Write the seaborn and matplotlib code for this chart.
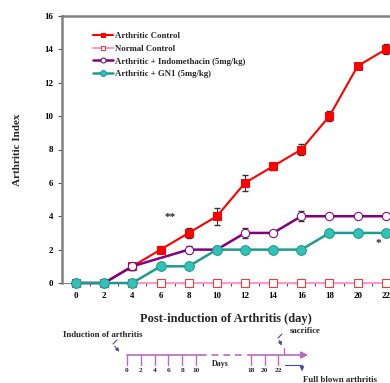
import numpy as np
import pandas as pd
import matplotlib
matplotlib.use("Agg")
import matplotlib.pyplot as plt
import seaborn as sns

sns.set_style("ticks")
plt.rcParams['font.family'] = ['Liberation Serif', 'DejaVu Serif']
plt.rcParams['font.weight'] = 'bold'

days = [0, 2, 4, 6, 8, 10, 12, 14, 16, 18, 20, 22]
arthritic = [0, 0, 1, 2, 3, 4, 6, 7, 8, 10, 13, 14]
arthritic_err = [0, 0, 0.2, 0.2, 0.3, 0.5, 0.5, 0.2, 0.3, 0.3, 0.2, 0.3]
normal = [0] * 12
indo_days = [0, 2, 4, 8, 10, 12, 14, 16, 18, 20, 22]
indo = [0, 0, 1, 2, 2, 3, 3, 4, 4, 4, 4]
indo_err = [0, 0, 0.2, 0.2, 0.1, 0.3, 0.1, 0.3, 0, 0, 0]
gn1 = [0, 0, 0, 1, 1, 2, 2, 2, 2, 3, 3, 3]
gn1_err = [0, 0, 0, 0.1, 0.1, 0.2, 0.1, 0.1, 0.1, 0, 0, 0]

timeline_a = [0, 2, 4, 6, 8, 10]
timeline_b = [18, 20, 22]

fig = plt.figure(figsize=(3.9, 3.83), dpi=100)
ax = fig.add_axes([62 / 390, 1 - 283 / 383, 328 / 390, 267 / 383])

# error bars first
for x, y, e in [(days, arthritic, arthritic_err), (indo_days, indo, indo_err),
                (days, gn1, gn1_err)]:
    ax.errorbar(x, y, yerr=e, fmt='none', ecolor='#333333',
                elinewidth=0.8, capsize=2, zorder=2)

ms = 6
sns.lineplot(x=days, y=arthritic, ax=ax, color='#ff0000', lw=1.5, marker='s',
             markersize=ms, markerfacecolor='#ff0000', markeredgecolor='#ff0000',
             label='Arthritic Control', clip_on=False, zorder=3)
sns.lineplot(x=days, y=normal, ax=ax, color='#ff99cc', lw=1.5, marker='s',
             markersize=ms, markerfacecolor='white', markeredgecolor='#ff3333',
             label='Normal Control', clip_on=False, zorder=4)
sns.lineplot(x=indo_days, y=indo, ax=ax, color='#800080', lw=1.8, marker='o',
             markersize=ms, markerfacecolor='white', markeredgecolor='#800080',
             label='Arthritic + Indomethacin (5mg/kg)', clip_on=False, zorder=5)
sns.lineplot(x=days, y=gn1, ax=ax, color='#1f9a8e', lw=1.8, marker='o',
             markersize=ms + 1, markerfacecolor='#33c2b8', markeredgecolor='#1f9a8e',
             label='Arthritic + GN1 (5mg/kg)', clip_on=False, zorder=6)

ax.text(6.7, 3.8, '**', fontsize=8, ha='center')
ax.text(21.5, 2.2, '*', fontsize=8, ha='center')

ax.set_xlim(-1, 22.3)
ax.set_ylim(0, 16)
ax.set_xticks(days)
ax.set_xticks(range(1, 22, 2), minor=True)
ax.set_yticks(range(0, 17, 2))
ax.tick_params(axis='both', labelsize=6.5, length=3, width=0.8, colors='#555555',
               labelcolor='black')
ax.tick_params(axis='x', which='minor', length=2)
for lab in ax.get_xticklabels() + ax.get_yticklabels():
    lab.set_fontweight('bold')
ax.set_xlabel('Post-induction of Arthritis (day)', fontsize=9, fontweight='bold',
              labelpad=9)
ax.set_ylabel('Arthritic Index', fontsize=8, fontweight='bold', labelpad=16)
for s in ['left', 'top']:
    ax.spines[s].set_color('#808080')
    ax.spines[s].set_linewidth(1.8)
ax.spines['bottom'].set_color('#808080')
ax.spines['right'].set_visible(False)

leg = ax.legend(loc='upper left', bbox_to_anchor=(0.085, 0.955), frameon=False,
                fontsize=6.3, handlelength=2.2, handletextpad=0.3,
                labelspacing=0.55, borderaxespad=0, markerscale=0.6)
for t in leg.get_texts():
    t.set_fontweight('bold')

# timeline schematic (pixel coordinates)
tl = fig.add_axes([0, 0, 1, 1])
tl.set_xlim(0, 390)
tl.set_ylim(383, 0)
tl.axis('off')
tl.patch.set_alpha(0)
tcol = '#b86cc0'
ly = 355
def px(d):
    return 127 + 6.9 * d if d <= 10 else 278 - 6.75 * (22 - d)
tl.plot([px(0), 200], [ly, ly], color=tcol, lw=1.2)
tl.plot([200, 245], [ly, ly], color=tcol, lw=1.2, ls=(0, (4, 3)))
tl.annotate('', xy=(311, ly), xytext=(245, ly),
            arrowprops=dict(arrowstyle='-|>', color=tcol, lw=1.2))
for d in timeline_a + timeline_b:
    tl.plot([px(d), px(d)], [ly, ly + 10], color=tcol, lw=1)
    tl.text(px(d), ly + 15, str(d), fontsize=5.3, ha='center', va='center')
tl.plot([284, 284], [ly - 7, ly], color=tcol, lw=1)
tl.text(220, 364, 'Days', fontsize=5.8, ha='center', va='center')
tl.text(63, 335, 'Induction of arthritis', fontsize=6.3, ha='left', va='center')
tl.text(290, 331, 'sacrifice', fontsize=6.3, ha='left', va='center')
tl.text(303, 380, 'Full blown arthritis', fontsize=6.3, ha='left', va='center')
acol = '#4a4aa0'
tl.plot([117, 113], [340, 344], color=acol, lw=0.8)
tl.annotate('', xy=(121, 354), xytext=(113, 344),
            arrowprops=dict(arrowstyle='-|>', color=acol, lw=0.8, mutation_scale=5))
tl.plot([282, 278], [334, 338], color=acol, lw=0.8)
tl.annotate('', xy=(283, 348), xytext=(278, 338),
            arrowprops=dict(arrowstyle='-|>', color=acol, lw=0.8, mutation_scale=5))
tl.plot([285, 302], [365, 365], color=acol, lw=0.8)
tl.annotate('', xy=(302, 374), xytext=(302, 365),
            arrowprops=dict(arrowstyle='-|>', color=acol, lw=0.8, mutation_scale=6))

fig.savefig('out.png', dpi=100)
